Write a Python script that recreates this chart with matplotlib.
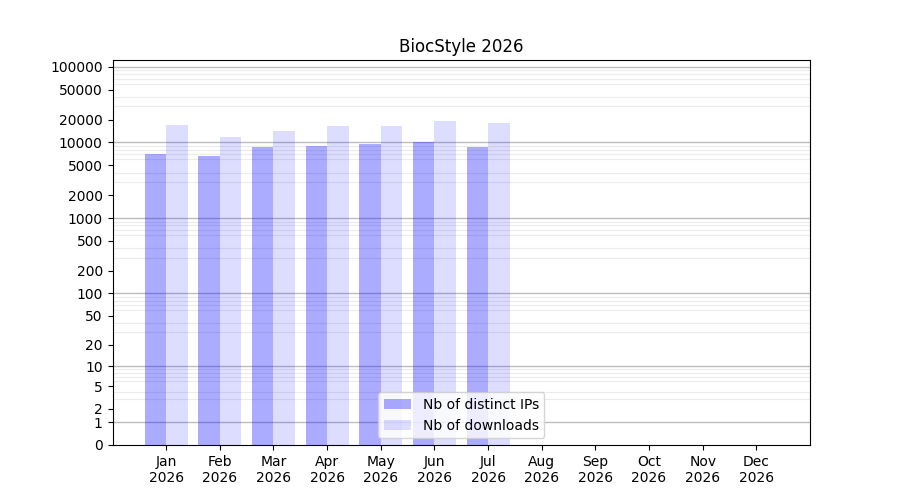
import numpy as np
import matplotlib
matplotlib.use("Agg")
import matplotlib.pyplot as plt

months = ["Jan", "Feb", "Mar", "Apr", "May", "Jun", "Jul", "Aug", "Sep", "Oct", "Nov", "Dec"]
year = "2026"
distinct_ips = [7000, 6600, 8700, 8950, 9500, 10100, 8700]
downloads = [16900, 11700, 14100, 16400, 16400, 19100, 18000]
ytick_values = [0, 1, 2, 5, 10, 20, 50, 100, 200, 500, 1000, 2000, 5000, 10000, 20000, 50000, 100000]

def fwd(y):
    return np.log10(1 + np.clip(y, 0, None))

def inv(x):
    return 10 ** x - 1

fig, ax = plt.subplots(figsize=(9, 5), dpi=100)
ax.set_yscale("function", functions=(fwd, inv))

x_ips = np.arange(len(distinct_ips))
x_dl = np.arange(len(downloads))
ax.bar(x_ips, distinct_ips, width=-0.4, align="edge", color="blue", alpha=0.33,
       label="Nb of distinct IPs", zorder=2)
ax.bar(x_dl, downloads, width=0.4, align="edge", color="blue", alpha=0.133,
       label="Nb of downloads", zorder=2)

ax.set_xticks(np.arange(len(months)))
ax.set_xticklabels([f"{m}\n{year}" for m in months])
ax.set_xlim(-1, 12)

ax.set_ylim(0, 123000)
ax.set_yticks(ytick_values)
ax.set_yticklabels([str(v) for v in ytick_values])
minor = [k * 10 ** n for n in range(0, 6) for k in range(1, 10) if k * 10 ** n <= 120000]
ax.set_yticks(minor, minor=True)
ax.tick_params(axis="y", which="minor", length=0)
ax.grid(True, axis="y", which="minor", color="#ececec", linewidth=0.8, zorder=0)
for n in range(0, 6):
    ax.axhline(10 ** n, color="#bdbdbd", linewidth=1, zorder=1)

ax.set_title("BiocStyle 2026")
ax.legend(loc="lower center")
fig.savefig("out.png")
